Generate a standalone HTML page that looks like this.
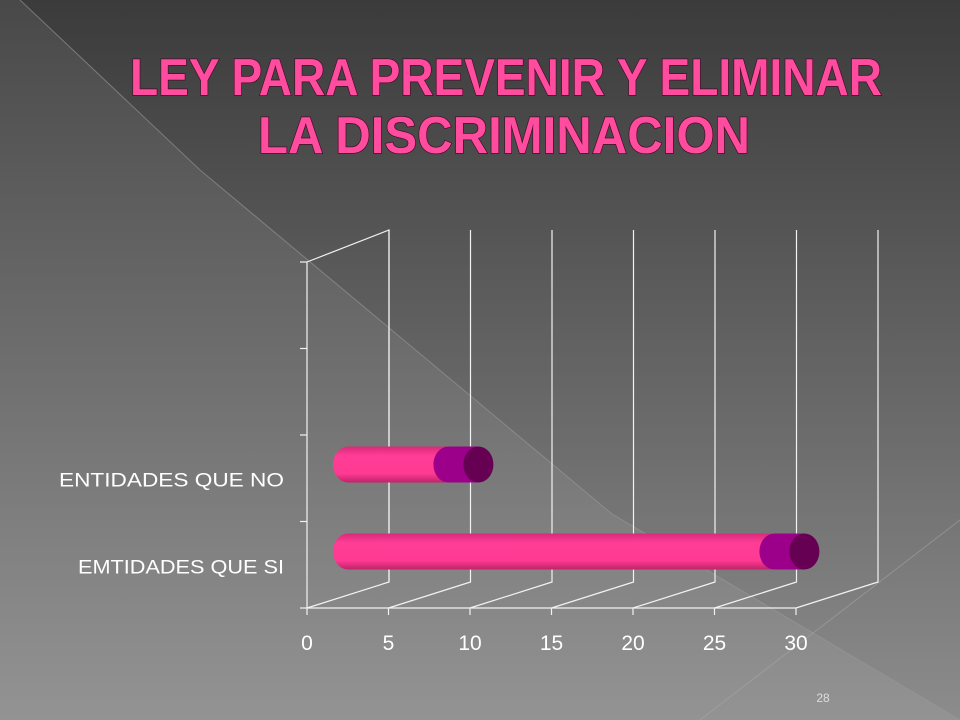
<!DOCTYPE html>
<html><head><meta charset="utf-8">
<style>
html,body{margin:0;padding:0;width:960px;height:720px;overflow:hidden;background:#555}
svg{display:block}
</style></head>
<body>
<svg width="960" height="720" viewBox="0 0 960 720">
<defs>
<linearGradient id="bg" x1="0" y1="0" x2="0" y2="1">
<stop offset="0" stop-color="#3b3b3b"/><stop offset="1" stop-color="#8c8c8c"/>
</linearGradient>
<linearGradient id="bg2" x1="0" y1="0" x2="0" y2="1">
<stop offset="0" stop-color="#4a4a4a"/><stop offset="1" stop-color="#949494"/>
</linearGradient>
<linearGradient id="body" x1="0" y1="0" x2="0" y2="1">
<stop offset="0" stop-color="#d82a7a"/><stop offset="0.25" stop-color="#ff3d96"/><stop offset="0.75" stop-color="#ff3a93"/><stop offset="1" stop-color="#c0226a"/>
</linearGradient>
</defs>
<rect width="960" height="720" fill="url(#bg)"/>
<polygon points="0,0 20,0 200,170 612,514 960,720 0,720" fill="url(#bg2)" opacity="0.9"/>
<polyline points="20,0 200,170 612,514 960,720" fill="none" stroke="#9a9a9a" stroke-width="1" opacity="0.6"/>
<line x1="700" y1="720" x2="960" y2="520" stroke="#aaa" stroke-width="1" opacity="0.5"/>

<g font-family="'Liberation Sans', sans-serif" font-weight="bold" font-size="52" fill="#ff4c9e" stroke="#4a0c28" stroke-width="1.5" paint-order="stroke">
<text x="130" y="95" textLength="752" lengthAdjust="spacingAndGlyphs">LEY PARA PREVENIR Y ELIMINAR</text>
<text x="258" y="153" textLength="492" lengthAdjust="spacingAndGlyphs">LA DISCRIMINACION</text>
</g>

<g id="chart"></g>
<text x="823" y="702" font-family="'Liberation Sans', sans-serif" font-size="12" fill="#ddd" text-anchor="middle">28</text>
</svg>
<script>
const categories = ["EMTIDADES QUE SI", "ENTIDADES QUE NO"];
const values = [28, 8];
const xTicks = [0, 5, 10, 15, 20, 25, 30];

const NS = "http://www.w3.org/2000/svg";
const g = document.getElementById('chart');
const X0 = 307, Y0 = 608, SC = 16.3, DX = 82, DY = 26, TOP = 262, BAND = 87;
function x(v){ return X0 + v*SC; }
function mk(tag, attrs){ const e=document.createElementNS(NS,tag); for(const k in attrs) e.setAttribute(k,attrs[k]); g.appendChild(e); return e; }
const W = '#f2f2f2';
let l = mk('polyline',{points:`${X0},${Y0} ${X0},${TOP} ${X0+DX},${TOP-DY-6} ${X0+DX},${Y0-DY}`,fill:'none',stroke:W,'stroke-width':1.2});


for(let i=0;i<=4;i++){
  const yy = Y0 - i*BAND*(346/348);
  const t = mk('line',{x1:X0-7,y1:yy,x2:X0,y2:yy,stroke:W,'stroke-width':1.2});
  
  
}
const ax = mk('line',{x1:X0,y1:Y0,x2:x(30),y2:Y0,stroke:W,'stroke-width':1.2});


xTicks.forEach(v=>{
  const gx = mk('polyline',{points:`${x(v)},${Y0} ${x(v)+DX},${Y0-DY} ${x(v)+DX},230`,fill:'none',stroke:W,'stroke-width':1.2});
  
  
  const tk = mk('line',{x1:x(v),y1:Y0,x2:x(v),y2:Y0+7,stroke:W,'stroke-width':1.2});
  
  
  const tx = mk('text',{x:x(v),y:Y0+42,'text-anchor':'middle',fill:'#fff','font-family':"'Liberation Sans', sans-serif",'font-size':21});
  tx.textContent = v;
  
  
});
categories.forEach((c,i)=>{
  const cy = Y0 - BAND*(i+0.5) - DY/2;
  const h = 36, r = h/2, rx = 15;
  const x0 = x(0) + DX/2, x1 = x(values[i]) + DX/2;
  const body = mk('path',{d:`M${x0},${cy-r} L${x1},${cy-r} L${x1},${cy+r} L${x0},${cy+r} A${rx},${r} 0 0 1 ${x0},${cy-r} Z`,fill:'url(#body)'});
  
  
  const band = mk('path',{d:`M${x1-30},${cy-r} L${x1},${cy-r} L${x1},${cy+r} L${x1-30},${cy+r} A${rx},${r} 0 0 1 ${x1-30},${cy-r} Z`,fill:'#9c008a'});
  
  
  const cap = mk('ellipse',{cx:x1,cy:cy,rx:rx,ry:r,fill:'#650052'});
  
  
  const lab = mk('text',{x:284,y:Y0-BAND*(i+0.5)+9,'text-anchor':'end',fill:'#fff','font-family':"'Liberation Sans', sans-serif",'font-size':19,textLength:i===0?206:225,lengthAdjust:'spacingAndGlyphs'});
  lab.textContent = c;
  
  
});
</script>
</body></html>
